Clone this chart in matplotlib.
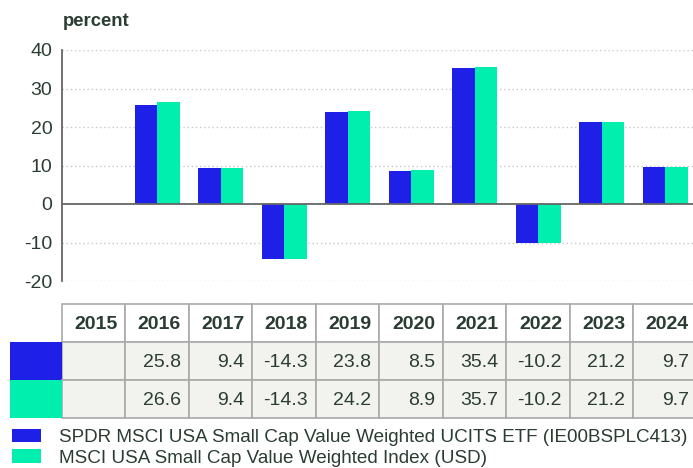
import matplotlib
matplotlib.use("Agg")
import matplotlib.pyplot as plt
from matplotlib.patches import Rectangle, Patch

plt.rcParams['font.family'] = ['Liberation Sans', 'DejaVu Sans']

years = ["2015", "2016", "2017", "2018", "2019", "2020", "2021", "2022", "2023", "2024"]
etf = [None, 25.8, 9.4, -14.3, 23.8, 8.5, 35.4, -10.2, 21.2, 9.7]
index = [None, 26.6, 9.4, -14.3, 24.2, 8.9, 35.7, -10.2, 21.2, 9.7]
series_names = ["SPDR MSCI USA Small Cap Value Weighted UCITS ETF (IE00BSPLC413)",
                "MSCI USA Small Cap Value Weighted Index (USD)"]
yticks = [-20, -10, 0, 10, 20, 30, 40]

c_etf = "#1e20e8"
c_idx = "#00efaf"
txt = "#2b3d33"
W, H = 693, 468

fig = plt.figure(figsize=(W / 100, H / 100), dpi=100)

def box(x0, y0, x1, y1):
    # pixel box (top-left origin) -> figure fraction rect
    return [x0 / W, 1 - y1 / H, (x1 - x0) / W, (y1 - y0) / H]

# main chart
ax = fig.add_axes(box(62, 50, 697, 281))
n = len(years)
xs = list(range(n))
bw = 0.355
for i in xs:
    if etf[i] is not None:
        ax.bar(i - bw / 2, etf[i], bw, color=c_etf, zorder=3)
    if index[i] is not None:
        ax.bar(i + bw / 2, index[i], bw, color=c_idx, zorder=3)
ax.set_xlim(-0.5, n - 0.5)
ax.set_ylim(-20, 40)
ax.set_yticks(yticks)
ax.set_yticklabels([str(v) for v in yticks], fontsize=14, color=txt)
ax.set_xticks([])
ax.tick_params(axis='y', length=0, pad=7)
for t in [-20, -10, 10, 20, 30, 40]:
    ax.axhline(t, color="#c8c8c8", lw=1, ls=(0, (1, 2)), zorder=1)
ax.axhline(0, color="#666666", lw=1.3, zorder=4)
for s in ["top", "right", "bottom"]:
    ax.spines[s].set_visible(False)
ax.spines["left"].set_color("#666666")
ax.spines["left"].set_linewidth(1.3)

fig.text(63 / W, 1 - 26 / H, "percent", fontsize=13.3, fontweight="bold",
         color=txt, va="baseline", ha="left")

# data table
colw = 63.5
left_px = 10
tax = fig.add_axes(box(left_px, 304, 697, 418))
tax.set_xlim(-0.5 - (62 - left_px) / colw, n - 0.5)
tax.set_ylim(0, 3)
tax.axis("off")
line = "#a9a9a9"
rows = [years, etf, index]
for r, vals in enumerate(rows):
    y0 = 2 - r
    for i in xs:
        fc = "white" if r == 0 else "#f2f2ee"
        tax.add_patch(Rectangle((i - 0.5, y0), 1, 1, facecolor=fc,
                                edgecolor=line, lw=1.2, clip_on=False))
        v = vals[i]
        if v is None:
            continue
        label = v if r == 0 else f"{v:.1f}"
        tax.text(i + 0.5 - 8 / colw, y0 + 0.47, label, ha="right", va="center",
                 fontsize=14, color=txt, fontweight="bold" if r == 0 else "normal")
    if r > 0:
        tax.add_patch(Rectangle((-0.5 - (62 - left_px) / colw, y0), (62 - left_px) / colw, 1,
                                facecolor=[c_etf, c_idx][r - 1], edgecolor="none"))

# legend
handles = [Patch(facecolor=c_etf), Patch(facecolor=c_idx)]
fig.legend(handles, series_names, loc="upper left", bbox_to_anchor=(4 / W, 1 - 421 / H),
           frameon=False, fontsize=13.6, handlelength=1.55, handleheight=0.75,
           handletextpad=0.95, labelspacing=0.18, borderaxespad=0, labelcolor=txt)

fig.savefig("out.png", dpi=100)
